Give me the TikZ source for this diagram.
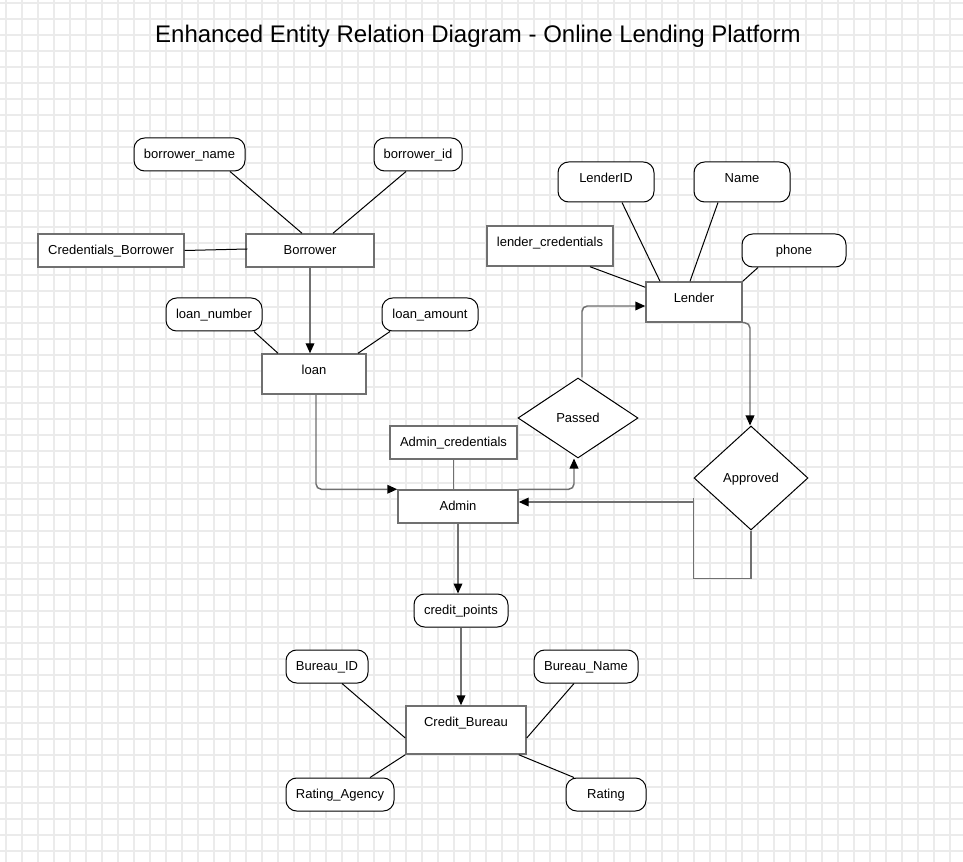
\documentclass[tikz,border=0pt]{standalone}
\usepackage{fontspec}
\setmainfont{Liberation Sans}
\usetikzlibrary{shapes.geometric,arrows.meta,calc}
\newdimen\px \px=0.75pt
\definecolor{gridc}{RGB}{235,235,235}
\definecolor{edgec}{RGB}{112,112,112}
\begin{document}
\begin{tikzpicture}[x=0.75pt,y=-0.75pt,
  base/.style={inner sep=0pt, font=\fontsize{9.75}{11}\selectfont, text height=7pt, text depth=0.5pt},
  ent/.style={base, draw=edgec, line width=1.1pt, fill=white},
  attr/.style={base, draw=black, line width=0.75pt, rounded corners=8pt, fill=white},
  rel/.style={base, shape=diamond, draw=black, line width=0.75pt, fill=white, aspect=1.5},
  lift/.style={text depth=6.2pt},
  lift2/.style={text depth=12.2pt},
  sz/.style 2 args={minimum width=#1\px, minimum height=#2\px},
  link/.style={draw=black, line width=0.75pt},
  arr/.style={draw=edgec, line width=1.1pt, rounded corners=4pt, -{Triangle[length=7.5pt,width=6.5pt,color=black,fill=black]}},
  loopc/.style={draw=edgec, line width=1.1pt},
  gline/.style={draw=gridc, line width=0.9pt}
]
\useasboundingbox (0,0) rectangle (963,862);
\fill[white] (0,0) rectangle (963,862);
\foreach \gx in {6,22,...,962} \draw[gline] (\gx,0) -- (\gx,862);
\foreach \gy in {3,19,...,862} \draw[gline] (0,\gy) -- (963,\gy);

\node[font=\fontsize{18}{22}\selectfont] (title) at (478,36) {Enhanced Entity Relation Diagram - Online Lending Platform};

% Borrower side
\node[attr, sz={111}{33}] (bn) at (189.5,154.5) {borrower\_name};
\node[attr, sz={88}{33}] (bi) at (418,154.5) {borrower\_id};
\node[ent, sz={146}{33}] (cb) at (111,250.5) {Credentials\_Borrower};
\node[ent, sz={128}{33}] (bo) at (310,250.5) {Borrower};
\node[attr, sz={96}{33}] (ln) at (214,314.5) {loan\_number};
\node[attr, sz={96}{33}] (la) at (430,314.5) {loan\_amount};
\node[ent, lift, sz={104}{40}] (lo) at (314,374) {loan};

% Lender side
\node[attr, lift, sz={96}{40}] (li) at (606,182) {LenderID};
\node[attr, lift, sz={96}{40}] (nm) at (742,182) {Name};
\node[ent, lift, sz={126}{40}] (lc) at (550,246) {lender\_credentials};
\node[attr, sz={104}{33}] (ph) at (794,250.5) {phone};
\node[ent, lift, sz={96}{40}] (le) at (694,302) {Lender};

\node[rel, sz={120}{80}] (pa) at (578,418) {Passed};
\node[rel, sz={114}{104}] (ap) at (751,478) {Approved};

% Admin
\node[ent, sz={127}{33}] (ac) at (453.5,442.5) {Admin\_credentials};
\node[ent, sz={120}{33}] (ad) at (458,506.5) {Admin};
\node[attr, sz={94}{33}] (cp) at (461,610.5) {credit\_points};

% Credit bureau
\node[ent, lift2, sz={120}{48}] (cr) at (466,730) {Credit\_Bureau};
\node[attr, sz={82}{33}] (bid) at (327,666.5) {Bureau\_ID};
\node[attr, sz={104}{33}] (bnm) at (586,666.5) {Bureau\_Name};
\node[attr, sz={108}{33}] (ra) at (340,794.5) {Rating\_Agency};
\node[attr, sz={80}{33}] (rt) at (606,794.5) {Rating};

% attribute links
\draw[link] ($(bn.south)+(40.5,0)$) -- ($(bo.north)+(-8,0)$);
\draw[link] ($(bi.south)+(-12,0)$) -- ($(bo.north)+(23,0)$);
\draw[link] (cb.east) -- ($(bo.west)+(2,-1.5)$);
\draw[link] ($(ln.south)+(40,0)$) -- ($(lo.north)+(-36,0)$);
\draw[link] ($(la.south)+(-40,0)$) -- ($(lo.north)+(44,0)$);
\draw[link] ($(li.south)+(16,0)$) -- ($(le.north)+(-34,0)$);
\draw[link] ($(nm.south)+(-24,0)$) -- ($(le.north)+(-4,0)$);
\draw[link] ($(lc.south)+(40,0)$) -- ($(le.north west)+(0,6)$);
\draw[link] ($(ph.south)+(-36,0)$) -- (le.north east);
\draw[loopc] (ac.south) -- (ac.south |- ad.north);
\draw[link] ($(bid.south)+(15,0)$) -- ($(cr.west)+(0,8)$);
\draw[link] ($(bnm.south)+(-12,0)$) -- ($(cr.east)+(0,8)$);
\draw[link] ($(ra.north)+(30,0)$) -- (cr.south west);
\draw[link] ($(rt.north)+(-32,0)$) -- ($(cr.south east)+(-8,0)$);

% arrows
\draw[arr] (bo.south) -- (bo.south |- lo.north);
\draw[arr] ($(lo.south)+(2,0)$) |- (ad.north west);
\draw[arr] (ad.north east) -| ($(pa.south)+(-4,0)$);
\draw[arr] ($(pa.north)+(4,0)$) |- ($(le.west)+(0,4)$);
\draw[arr] (le.south east) -| ($(ap.north)+(-1,0)$);
\draw[loopc] (ap.south) -- ($(ap.south)+(0,48)$) -| ($(ap.west)+(0,20)$);
\coordinate (lp) at ($(ap.west)+(0,24)$);
\draw[arr] (lp) -- (lp -| ad.east);
\draw[arr] (ad.south) -- (ad.south |- cp.north);
\draw[arr] (cp.south) -- (cp.south |- cr.north);
\end{tikzpicture}
\end{document}
